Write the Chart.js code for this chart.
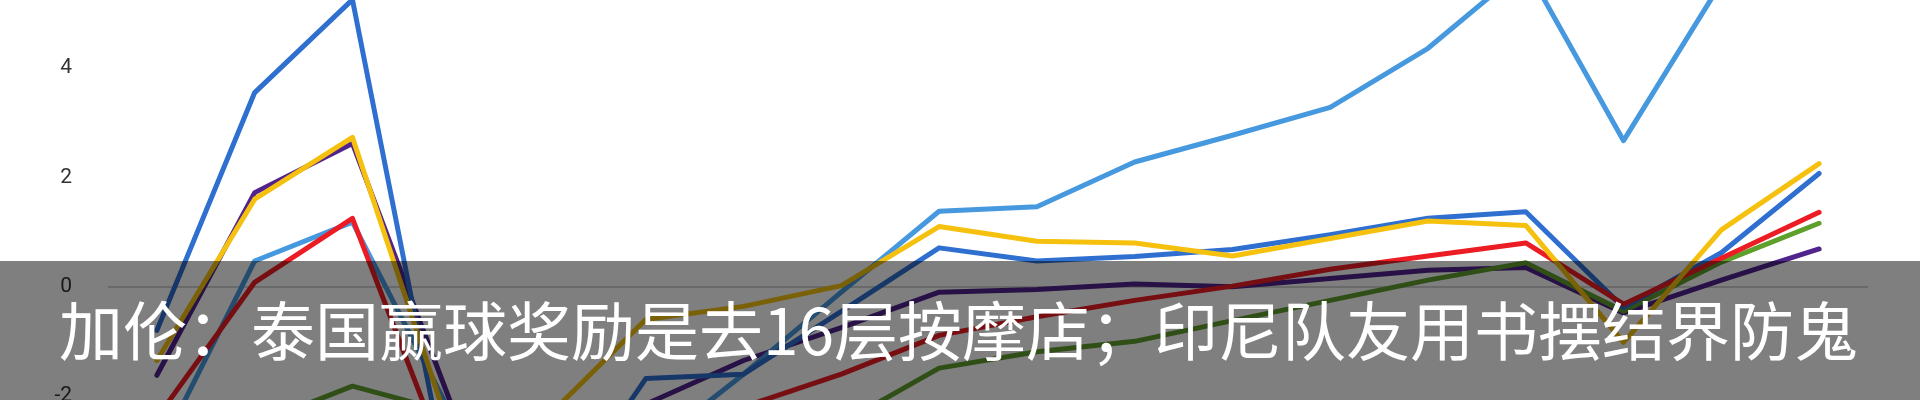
<!DOCTYPE html>
<html>
<head>
<meta charset="utf-8">
<script src="https://cdn.jsdelivr.net/npm/chart.js@4.4.1/dist/chart.umd.min.js"></script>
<style>
  html, body { margin: 0; padding: 0; width: 1920px; height: 400px; overflow: hidden; background: #ffffff; }
  #wrap { position: absolute; left: 0; top: -54px; width: 1920px; height: 572px; }
  #banner { position: absolute; left: 0; top: 261px; width: 1920px; height: 139px; background: rgba(0,0,0,0.5); }
  #caption { position: absolute; left: 59px; top: 295px; font-family: "Noto Sans CJK SC", "Noto Sans", sans-serif; font-size: 64px; line-height: 64px; color: #ffffff; white-space: nowrap; }
</style>
</head>
<body>
<div id="wrap"><canvas id="c"></canvas></div>
<div id="banner"></div>
<div id="caption">加伦：泰国赢球奖励是去16层按摩店；印尼队友用书摆结界防鬼</div>
<script>
const categories = ['1','2','3','4','5','6','7','8','9','10','11','12','13','14','15','16','17','18'];
const yTickLabels = [-2, 0, 2, 4];

const lightBlue = [-3.1, 0.47, 1.18, -2.3, -3.4, -3.0, -1.6, -0.1, 1.38, 1.46, 2.28, 2.77, 3.28, 4.36, 5.85, 2.67, 5.56, 6.3];
const blue      = [-0.8, 3.55, 5.25, -3.8, -4.3, -1.68, -1.6, -0.45, 0.71, 0.47, 0.55, 0.68, 0.95, 1.25, 1.37, -0.38, 0.62, 2.07];
const yellow    = [-1.35, 1.6, 2.73, -2.65, -2.37, -0.6, -0.36, 0.02, 1.1, 0.83, 0.8, 0.56, 0.88, 1.2, 1.12, -1.02, 1.04, 2.25];
const red       = [-2.4, 0.08, 1.25, -3.4, -3.0, -2.7, -2.2, -1.6, -0.89, -0.55, -0.25, 0.01, 0.32, 0.56, 0.8, -0.32, 0.52, 1.36];
const purple    = [-1.62, 1.72, 2.62, -2.1, -2.8, -2.15, -1.35, -0.75, -0.1, -0.05, 0.05, 0.0, 0.15, 0.3, 0.35, -0.48, 0.12, 0.69];
const green     = [-2.8, -2.52, -1.82, -2.3, -3.0, -3.2, -2.9, -2.5, -1.49, -1.19, -1.0, -0.62, -0.25, 0.12, 0.44, -0.45, 0.45, 1.16];

function ds(label, data, color) {
  return {
    label, data,
    borderColor: color,
    backgroundColor: color,
    borderWidth: 5,
    pointRadius: 0,
    pointHoverRadius: 0,
    tension: 0,
    fill: false,
    borderCapStyle: 'round',
    borderJoinStyle: 'round'
  };
}

new Chart(document.getElementById('c'), {
  type: 'line',
  data: {
    labels: categories,
    datasets: [
      ds('黄', yellow, '#f5c10e'),
      ds('红', red, '#ec1c24'),
      ds('蓝', blue, '#2f6fd0'),
      ds('浅蓝', lightBlue, '#4699de'),
      ds('绿', green, '#5f9f2c'),
      ds('紫', purple, '#51238c')
    ]
  },
  options: {
    responsive: true,
    maintainAspectRatio: false,
    animation: false,
    layout: { padding: { left: 0, right: 52, top: 10, bottom: 10 } },
    plugins: { legend: { display: false }, tooltip: { enabled: false }, title: { display: false } },
    scales: {
      x: { display: false, offset: true },
      y: {
        min: -4, max: 6,
        border: { display: false },
        afterFit: (scale) => { scale.width = 108; },
        grid: {
          drawTicks: true,
          tickLength: 36,
          tickColor: 'rgba(0,0,0,0)',
          lineWidth: 2,
          color: (ctx) => (ctx.tick && ctx.tick.value === 0) ? '#d2d2d2' : 'rgba(0,0,0,0)'
        },
        ticks: {
          stepSize: 2,
          padding: 0,
          color: '#333333',
          font: { family: 'Roboto', size: 21 },
          callback: (v) => yTickLabels.includes(v) ? String(v) : null
        }
      }
    }
  }
});
</script>
</body>
</html>
